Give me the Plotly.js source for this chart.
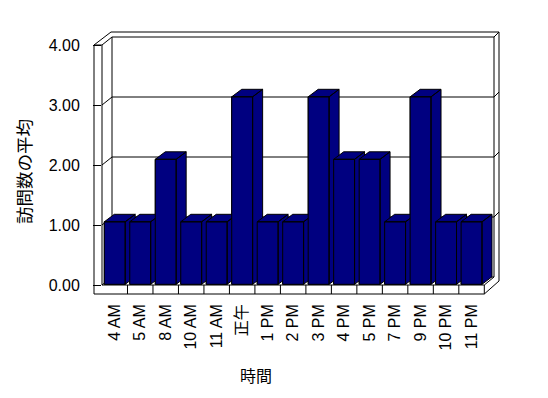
<!DOCTYPE html>
<html>
<head>
<meta charset="utf-8">
<script src="https://cdn.plot.ly/plotly-3.0.1.min.js"></script>
<style>html,body{margin:0;padding:0;background:#fff;}#chart{width:548px;height:398px;}</style>
</head>
<body>
<div id="chart"></div>
<script>
// ---- data ----
const categories = ['4 AM','5 AM','8 AM','10 AM','11 AM','正午','1 PM','2 PM','3 PM','4 PM','5 PM','7 PM','9 PM','10 PM','11 PM'];
const visits = [1,1,2,1,1,3,1,1,3,2,2,1,3,1,1];
const yTickValues = [0,1,2,3,4];
const xTitle = '時間';
const yTitle = '訪問数の平均';

// ---- geometry (pixels) ----
const W = 548, H = 398;
const plotL = 102, plotR = 500, plotT = 43, plotB = 300;
const catEnd = 484.3;
const catW = (catEnd - plotL) / categories.length;
const frontZero = 285, frontUnit = 60;      // front plane (axis labels)
const barZero = 284.3, barUnit = 62.5;      // bar plane
const depthX = 10, depthY = 7.5;            // bar depth in px
const barHalf = 0.41;
const FONT = 'Liberation Sans, Arial, "Noto Sans CJK JP", sans-serif';

const xRange = [-0.5, -0.5 + (plotR - plotL) / catW];
const yRange = [(frontZero - plotB) / frontUnit, (frontZero - plotT) / frontUnit];
const y2Range = [(barZero - plotB) / barUnit, (barZero - plotT) / barUnit];

// ---- scene shapes (walls, floor, gridlines) ----
const px = x => (x - plotL) / (plotR - plotL);
const py = y => (plotB - y) / (plotB - plotT);
const shapes = [];
function seg(x0, y0, x1, y1) {
  shapes.push({type:'line', xref:'paper', yref:'paper', x0:px(x0), y0:py(y0), x1:px(x1), y1:py(y1),
    line:{color:'#000', width:1}, layer:'below'});
}
const backL = 112, backR = 494, outerR = 499, outerTop = 32;
const backY = v => frontZero - 8 - frontUnit * v;
const frontY = v => frontZero - frontUnit * v;
const vMax = yTickValues[yTickValues.length - 1];
yTickValues.forEach(v => {
  seg(backL, backY(v), backR, backY(v));
  seg(plotL, frontY(v), backL, backY(v));
  if (v > 0) seg(backR, backY(v), outerR, backY(v) - 5);
});
seg(backL, backY(vMax), backL, backY(0));
seg(backR, backY(vMax), backR, backY(0));
seg(111, outerTop, outerR, outerTop);
seg(94, frontY(vMax), 111, outerTop);
seg(outerR, outerTop, outerR, 281);
seg(94, frontY(vMax), 94, 294);
seg(plotL, frontY(vMax), plotL, frontY(0));
seg(94, frontY(vMax), plotL, frontY(vMax));
seg(94, 294, catEnd, 294);
seg(plotL, frontZero, catEnd, frontZero);
seg(catEnd, frontZero, catEnd, 294);
for (let k = 1; k < categories.length; k++) seg(plotL + catW * k, frontZero, plotL + catW * k, 294);
seg(catEnd, 294, outerR, 281);
seg(catEnd, frontZero, backR, backY(0));

// ---- traces ----
const idx = categories.map((c, i) => i);
const traces = [
  {type:'scatter', mode:'markers', x:[], y:[], xaxis:'x', yaxis:'y', hoverinfo:'skip', showlegend:false},
  {type:'bar', x: idx, y: visits, xaxis:'x', yaxis:'y2', width: barHalf * 2,
   marker:{color:'#000080', line:{color:'#000', width:1}}, hoverinfo:'skip', showlegend:false}
];
const dx = depthX / catW, dy = depthY / barUnit;
visits.forEach((h, i) => {
  const L = i - barHalf, R = i + barHalf;
  const xs = [L, R, R, L, L, null,
              L, R, R + dx, L + dx, L, null,
              R, R + dx, R + dx, R, R];
  const ys = [0, 0, h, h, 0, null,
              h, h, h + dy, h + dy, h, null,
              0, dy, h + dy, h, 0];
  traces.push({type:'scatter', mode:'lines', x: xs, y: ys, xaxis:'x', yaxis:'y2',
    fill:'toself', fillcolor:'#000080', line:{color:'#000', width:1},
    hoverinfo:'skip', showlegend:false});
});

const layout = {
  width: W, height: H,
  margin:{l: plotL, r: W - plotR, t: plotT, b: H - plotB, pad:0},
  paper_bgcolor:'#fff', plot_bgcolor:'rgba(0,0,0,0)',
  font:{family: FONT, size:16, color:'#000'},
  showlegend:false,
  shapes: shapes,
  annotations:[{text: xTitle, xref:'paper', yref:'paper', x: px(256), y: py(376),
    xanchor:'center', yanchor:'middle', showarrow:false,
    font:{family: FONT, size:16, color:'#000'}}],
  xaxis:{range: xRange, tickvals: idx, ticktext: categories, tickangle:-90,
    showgrid:false, zeroline:false, showline:false, ticks:'', fixedrange:true,
    tickfont:{family: FONT, size:16, color:'#000'}},
  yaxis:{range: yRange, tickvals: yTickValues, tickformat:'.2f',
    showgrid:false, zeroline:false, showline:false,
    ticks:'outside', ticklen:8, tickwidth:1, tickcolor:'#000', ticklabelstandoff:10,
    tickfont:{family: FONT, size:16, color:'#000'},
    title:{text: yTitle, font:{family: FONT, size:17.5, color:'#000'}, standoff:12}},
  yaxis2:{range: y2Range, overlaying:'y', visible:false, fixedrange:true}
};

Plotly.newPlot('chart', traces, layout, {displayModeBar:false, staticPlot:true});
</script>
</body>
</html>
